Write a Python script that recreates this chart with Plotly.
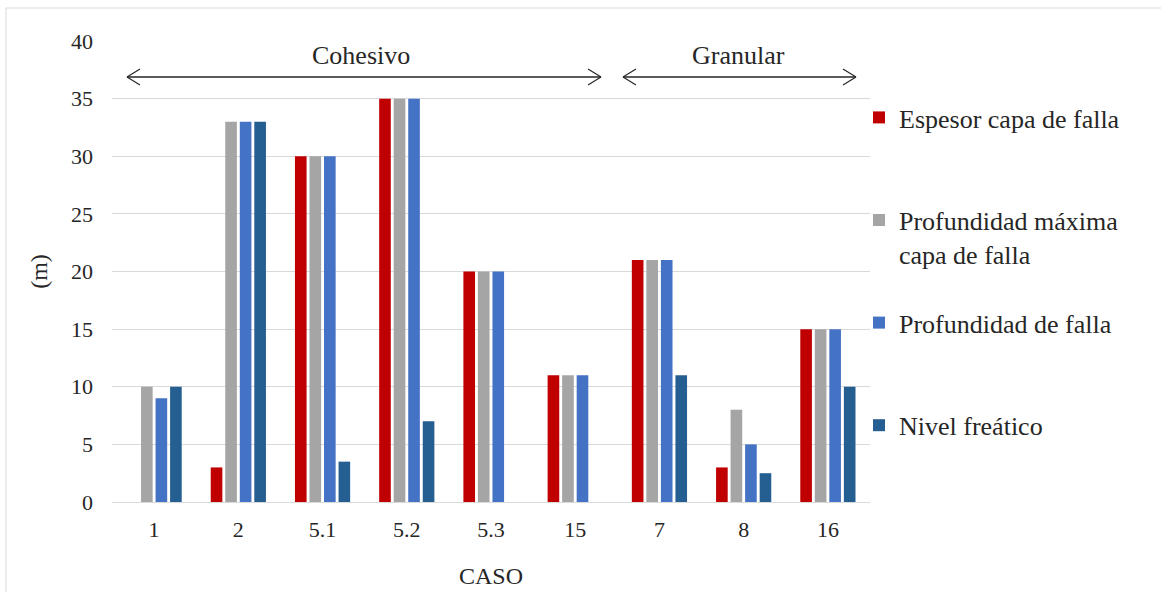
import plotly.graph_objects as go

casos = ["1", "2", "5.1", "5.2", "5.3", "15", "7", "8", "16"]
espesor = [None, 3, 30, 35, 20, 11, 21, 3, 15]
prof_max = [10, 33, 30, 35, 20, 11, 21, 8, 15]
prof_falla = [9, 33, 30, 35, 20, 11, 21, 5, 15]
nivel = [10, 33, 3.5, 7, None, None, 11, 2.5, 10]
series_names = ["Espesor capa de falla", "Profundidad máxima<br>capa de falla",
                "Profundidad de falla", "Nivel freático"]
legend_labels = ["Espesor capa de falla<br>&nbsp;", "Profundidad máxima<br>capa de falla",
                 "Profundidad de falla<br>&nbsp;", "Nivel freático<br>&nbsp;"]
colors = ["#C00000", "#A5A5A5", "#4472C4", "#255E91"]

FONT = "Liberation Serif, Times New Roman, serif"
fig = go.Figure()
for i, (name, vals, c) in enumerate(zip(legend_labels, [espesor, prof_max, prof_falla, nivel], colors)):
    fig.add_trace(go.Bar(x=casos, y=vals, name=name, marker=dict(color=c, line=dict(width=0)),
                         legendgroup=str(i)))

L, R, T, B = 112, 870, 41, 502
W, H = 1161, 592
pw, ph = R - L, B - T
def px(x):
    return (x - L) / pw
def py(y):
    return (B - y) / ph

shapes = []
shapes.append(dict(type="rect", xref="paper", yref="paper", x0=px(6), x1=px(1200), y0=py(8), y1=py(640),
                   line=dict(color="#D9D9D9", width=1), fillcolor="rgba(0,0,0,0)", layer="below"))
def arrow(x0, x1, y):
    out = []
    out.append(dict(type="line", xref="paper", yref="paper", x0=px(x0), x1=px(x1), y0=py(y), y1=py(y),
                    line=dict(color="#262626", width=1.5)))
    for xs, xe in [(x0, x0 + 13), (x1, x1 - 13)]:
        for dy in (-8, 8):
            out.append(dict(type="line", xref="paper", yref="paper", x0=px(xs), x1=px(xe),
                            y0=py(y), y1=py(y + dy), line=dict(color="#262626", width=1.2)))
    return out
shapes += arrow(127, 601, 77)
shapes += arrow(623, 856, 77)

annotations = [
    dict(text="Cohesivo", xref="paper", yref="paper", x=px(361), y=py(55), showarrow=False,
         xanchor="center", yanchor="middle",
         font=dict(family=FONT, size=26, color="#262626")),
    dict(text="Granular", xref="paper", yref="paper", x=px(738), y=py(55), showarrow=False,
         xanchor="center", yanchor="middle",
         font=dict(family=FONT, size=26, color="#262626")),
]

fig.update_layout(
    width=W, height=H,
    margin=dict(l=L, r=W - R, t=T, b=H - B),
    plot_bgcolor="white", paper_bgcolor="white",
    barmode="group", bargap=0.31, bargroupgap=0.2,
    font=dict(family=FONT, size=22, color="#262626"),
    shapes=shapes, annotations=annotations,
    legend=dict(x=px(859), xanchor="left", y=py(94), yanchor="top", tracegroupgap=32,
                valign="top",
                font=dict(family=FONT, size=26, color="#262626"),
                itemwidth=30, bgcolor="rgba(0,0,0,0)"),
    showlegend=True,
    xaxis=dict(title=dict(text="CASO", standoff=25, font=dict(size=24)), showgrid=False,
               showline=True, linecolor="#D9D9D9", linewidth=1, ticks="", automargin=False,
               ticklabelstandoff=8, tickfont=dict(size=22)),
    yaxis=dict(title=dict(text="(m)", standoff=16, font=dict(size=24)), range=[0, 40], dtick=5,
               showgrid=True, gridcolor="#D9D9D9", gridwidth=1, zeroline=False, automargin=False,
               showline=False, ticks="", ticklabelstandoff=18, tickfont=dict(size=22)),
)
fig.write_html("out.html")
